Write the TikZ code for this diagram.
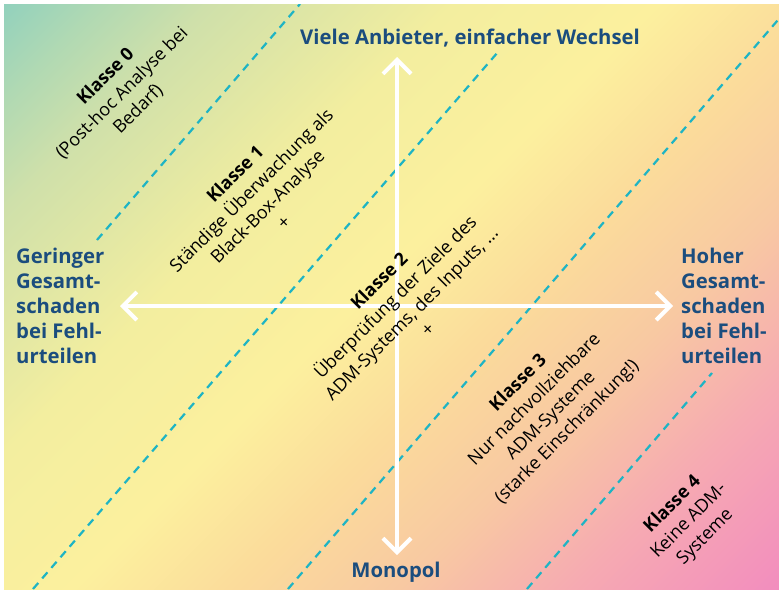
\documentclass[tikz,border=0pt]{standalone}
\usepackage{fontspec}
\setmainfont{Open Sans}
\usetikzlibrary{arrows.meta}
\definecolor{axisblue}{HTML}{1B4D7E}
\definecolor{dashteal}{HTML}{1EB4C4}
\definecolor{bgA}{HTML}{92D1BD}
\definecolor{bgB}{HTML}{B0D9B3}
\definecolor{bgC}{HTML}{CFE0AA}
\definecolor{bgD}{HTML}{F3EE9F}
\definecolor{bgE}{HTML}{FCF09E}
\definecolor{bgF}{HTML}{FBDB9B}
\definecolor{bgG}{HTML}{F8C9A2}
\definecolor{bgH}{HTML}{F6AAB2}
\definecolor{bgI}{HTML}{F28DBE}
\pgfdeclarehorizontalshading{bgshade}{100bp}{color(0bp)=(bgA); color(19bp)=(bgA); color(23.4bp)=(bgB); color(28.4bp)=(bgC); color(39.5bp)=(bgD); color(48.8bp)=(bgE); color(56.2bp)=(bgF); color(63.6bp)=(bgG); color(71.6bp)=(bgH); color(81bp)=(bgI); color(100bp)=(bgI)}

\begin{document}
\begin{tikzpicture}[x=1pt,y=-1pt,
	axislabel/.style={text=axisblue,font=\fontsize{20.3}{25}\selectfont\bfseries},
	klasse/.style={rotate=45,align=center,inner sep=0pt,font=\fontsize{18}{23}\selectfont},
	grenze/.style={dashteal,line width=2.2pt,dash pattern=on 8pt off 6pt},
	achse/.style={white,line width=4pt,{Straight Barb[length=14pt,width=28pt]}-{Straight Barb[length=14pt,width=28pt]}}]
	\useasboundingbox (0,0) rectangle (779,589);
	\begin{scope}
		\clip (4,4) rectangle (779,589);
		\shade[shading=bgshade,shading angle=-45] (1.5,-93.5) rectangle (781.5,686.5);
		% Grenzen zwischen den Klassen
		\draw[grenze] (97,240) -- (300,4);
		\draw[grenze] (33,589) -- (498,52);
		\draw[grenze] (288,589) -- (790,6);
		\draw[grenze] (527,589) -- (712,373);
	\end{scope}
%	Achsen
	\coordinate (pfeilN) at (397,57);
	\coordinate (pfeilS) at (397,555);
	\coordinate (pfeilW) at (120,306);
	\coordinate (pfeilO) at (673,306);
	\draw[achse] (pfeilW) -- (pfeilO);
	\draw[achse] (pfeilN) -- (pfeilS);
	\node[axislabel] (oben) at (470,38) {Viele Anbieter, einfacher Wechsel};
	\node[axislabel] (unten) at (396,572) {Monopol};
	\node[axislabel,anchor=west,align=left,inner sep=0pt] (links) at (16,306) {Geringer\\Gesamt-\\schaden\\bei Fehl-\\urteilen};
	\node[axislabel,anchor=west,align=left,inner sep=0pt] (rechts) at (681,306) {Hoher\\Gesamt-\\schaden\\bei Fehl-\\urteilen};
%	Klassen
	\node[klasse] (k0) at (122,93) {\textbf{Klasse 0}\\(Post-hoc Analyse bei\\Bedarf)};
	\node[klasse] (k1) at (259,198) {\textbf{Klasse 1}\\Ständige Überwachung als\\Black-Box-Analyse\\+};
	\node[klasse] (k2) at (403,305) {\textbf{Klasse 2}\\Überprüfung der Ziele des\\ADM-Systems, des Inputs, ...\\+};
	\node[klasse] (k3) at (543,408) {\textbf{Klasse 3}\\Nur nachvollziehbare\\ADM-Systeme\\(starke Einschränkung!)};
	\node[klasse] (k4) at (689,521) {\textbf{Klasse 4}\\Keine ADM-\\Systeme};
\end{tikzpicture}
\end{document}
